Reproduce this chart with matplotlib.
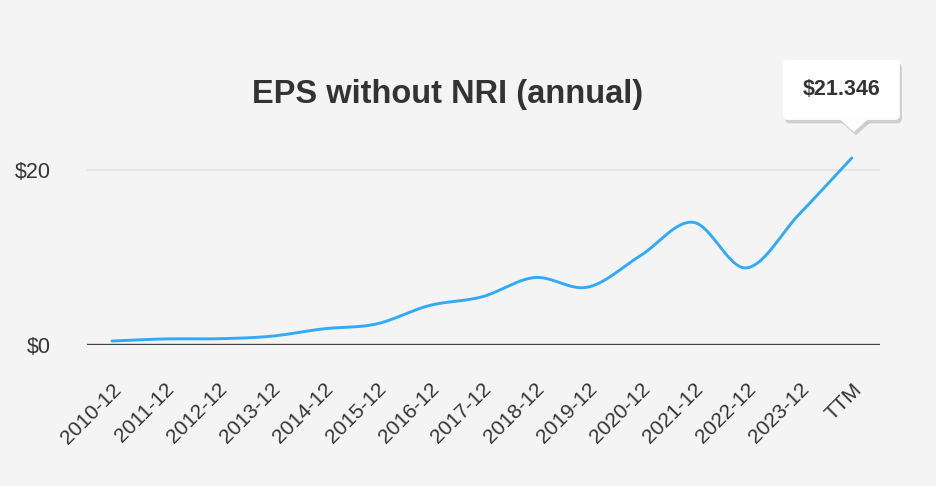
import numpy as np
import matplotlib
matplotlib.use("Agg")
import matplotlib.pyplot as plt
import matplotlib.patheffects as pe
from matplotlib.patches import FancyBboxPatch, Polygon
from matplotlib.transforms import ScaledTranslation

plt.rcParams['font.family'] = ['Liberation Sans', 'DejaVu Sans']

periods = ['2010-12', '2011-12', '2012-12', '2013-12', '2014-12', '2015-12', '2016-12',
           '2017-12', '2018-12', '2019-12', '2020-12', '2021-12', '2022-12', '2023-12', 'TTM']
eps = [0.46, 0.7, 0.72, 1.0, 1.85, 2.4, 4.5, 5.5, 7.7, 6.6, 10.2, 14.0, 8.8, 14.9, 21.346]
y_ticks = [0, 20]
y_tick_labels = ['$0', '$20']
title = 'EPS without NRI (annual)'
tip_text = '$21.346'

bg = '#f4f4f4'
line_color = '#33aaf7'
text_color = '#333333'


def catmull_rom(x, y, n=30):
    x = np.asarray(x, float)
    y = np.asarray(y, float)
    px = np.concatenate([[2 * x[0] - x[1]], x, [2 * x[-1] - x[-2]]])
    py = np.concatenate([[2 * y[0] - y[1]], y, [2 * y[-1] - y[-2]]])
    xs, ys = [], []
    t = np.linspace(0, 1, n, endpoint=False)
    for i in range(1, len(px) - 2):
        for p, out in ((px, xs), (py, ys)):
            p0, p1, p2, p3 = p[i - 1], p[i], p[i + 1], p[i + 2]
            out.append(0.5 * ((2 * p1) + (-p0 + p2) * t
                              + (2 * p0 - 5 * p1 + 4 * p2 - p3) * t ** 2
                              + (-p0 + 3 * p1 - 3 * p2 + p3) * t ** 3))
    xs.append([x[-1]])
    ys.append([y[-1]])
    return np.concatenate(xs), np.concatenate(ys)


fig = plt.figure(figsize=(9.37, 4.86), dpi=100, facecolor=bg)
ax = fig.add_axes([0.093, 0.290, 0.846, 0.451], facecolor=bg)

xpos = np.arange(len(periods))
sx, sy = catmull_rom(xpos, eps)
ax.plot(sx, sy, color=line_color, lw=2.1, solid_capstyle='round', zorder=3)

ax.set_xlim(-0.47, len(periods) - 1 + 0.53)
ax.set_ylim(0, 25)
ax.set_yticks(y_ticks)
ax.set_yticklabels(y_tick_labels)
ax.axhline(20, color='#e2e2e2', lw=1.2, zorder=1)
ax.axhline(0, color='#444444', lw=2.4, zorder=2)

for s in ax.spines.values():
    s.set_visible(False)
ax.tick_params(axis='y', length=0, labelsize=15.5, labelcolor=text_color, pad=26)
ax.set_xticks(xpos)
ax.set_xticklabels(periods, rotation=45, ha='right', rotation_mode='anchor')
ax.tick_params(axis='x', length=0, labelsize=15, labelcolor=text_color, pad=25)

fig.text(0.478, 0.805, title, ha='center', va='center', fontsize=23.5,
         fontweight='bold', color=text_color)

# tooltip at the last point, laid out in inches relative to it
lx, ly = xpos[-1], eps[-1]
tr = fig.dpi_scale_trans + ScaledTranslation(lx, ly, ax.transData)
shadow = [pe.SimplePatchShadow(offset=(1.5, -2.5), alpha=0.22), pe.Normal()]
box = FancyBboxPatch((-0.69, 0.38), 1.17, 0.60,
                     boxstyle='round,pad=0,rounding_size=0.05',
                     fc='white', ec='none', transform=tr, clip_on=False, zorder=6)
box.set_path_effects(shadow)
fig.add_artist(box)
tri = Polygon([[0.02, 0.26], [-0.12, 0.385], [0.16, 0.385]], closed=True,
              fc='white', ec='none', transform=tr, clip_on=False, zorder=6)
tri.set_path_effects(shadow)
fig.add_artist(tri)
fig.text(-0.105, 0.68, tip_text, transform=tr, ha='center', va='center',
         fontsize=15.5, fontweight='bold', color=text_color, zorder=7)

fig.savefig('out.png', dpi=100, facecolor=bg)
